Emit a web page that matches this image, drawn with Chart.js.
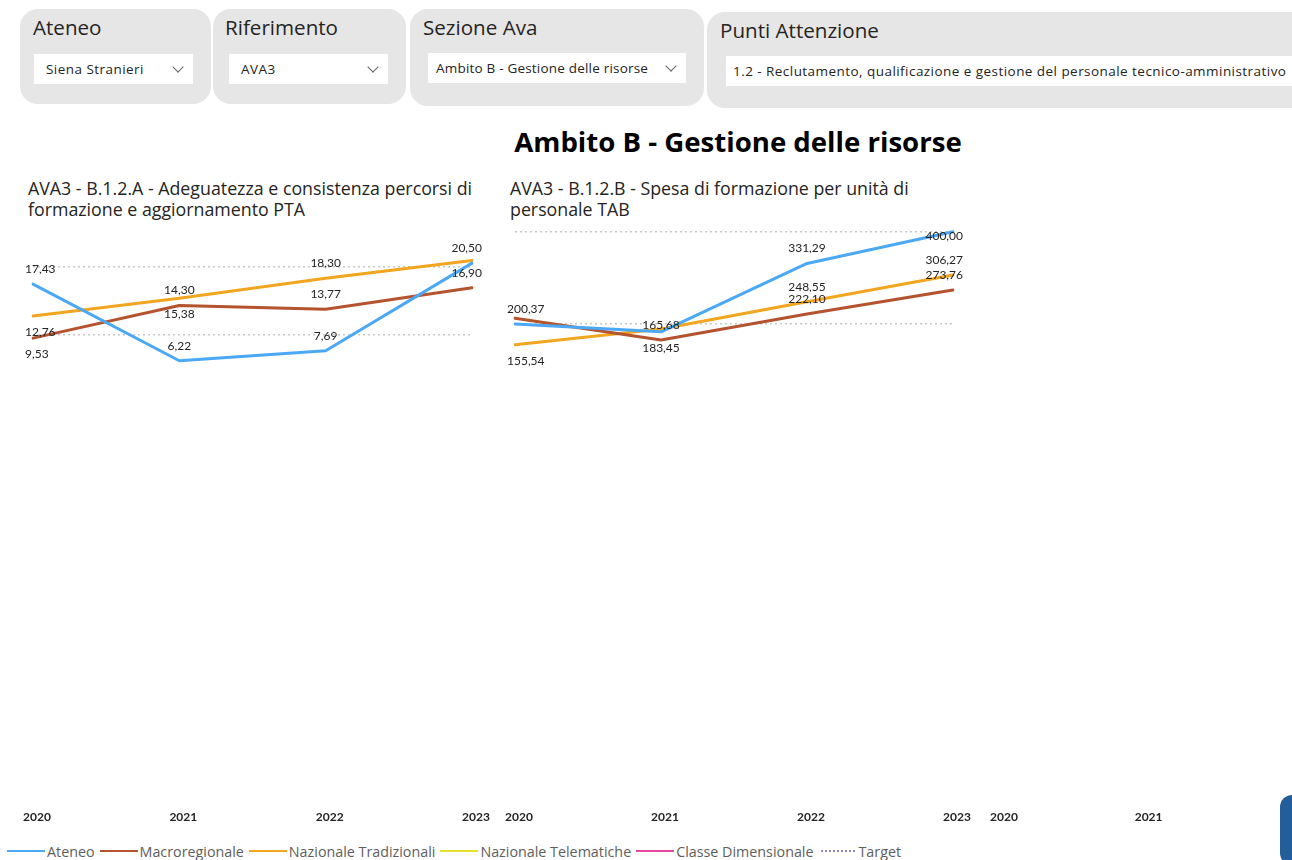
<!DOCTYPE html>
<html lang="it">
<head>
<meta charset="utf-8">
<title>Ambito B - Gestione delle risorse</title>
<script src="https://cdn.jsdelivr.net/npm/chart.js@4/dist/chart.umd.min.js"></script>
<style>
  html, body { margin: 0; padding: 0; background: #fff; }
  body {
    width: 1292px; height: 860px; overflow: hidden; position: relative;
    font-family: 'Segoe UI', 'Open Sans', Lato, sans-serif; color: #252423;
  }
  .slicer { position: absolute; background: #e6e6e6; border-radius: 18px; }
  .slicer h2 {
    margin: 0; position: absolute; left: 13px; top: 4px;
    font-weight: normal; font-size: 20.6px; line-height: 28px; white-space: nowrap;
  }
  .drop {
    position: absolute; background: #fff; font-size: 13.5px; line-height: 30px; height: 30px;
    padding-left: 12px; box-sizing: border-box; white-space: nowrap; overflow: hidden;
    letter-spacing: 0.45px;
  }
  .drop i {
    position: absolute; right: 11px; top: 9px; width: 7px; height: 7px;
    border-right: 1px solid #666; border-bottom: 1px solid #666; transform: rotate(45deg);
  }
  #mainTitle {
    position: absolute; left: 0; top: 123px; width: 1476px; text-align: center;
    font-size: 27.6px; font-weight: bold; line-height: 36px; color: #000;
  }
  .ctitle { position: absolute; top: 178px; font-size: 17.8px; line-height: 21px; width: 480px; }
  .box { position: absolute; top: 222px; height: 612px; }
  #legend {
    position: absolute; left: 7px; top: 841px; height: 20px; display: flex; align-items: center;
    font-size: 14.3px; color: #605e5c; white-space: nowrap;
  }
  #legend .item { display: flex; align-items: center; margin-right: 5px; }
  #legend .sym { width: 38px; height: 0; border-top: 2px solid; margin-right: 2px; }
  #legend .sym.dot { border-top-style: dotted; width: 34px; margin-left: 2px; margin-right: 4px; }
  #btn { position: absolute; left: 1280px; top: 795px; width: 40px; height: 70px; border-radius: 12px; background: #245e9a; }
</style>
</head>
<body>

<div class="slicer" style="left:20px;top:9px;width:191px;height:95px;">
  <h2>Ateneo</h2>
  <div class="drop" style="left:14px;top:45px;width:159px;">Siena Stranieri<i></i></div>
</div>
<div class="slicer" style="left:213px;top:9px;width:193px;height:95px;">
  <h2 style="left:12px;">Riferimento</h2>
  <div class="drop" style="left:16px;top:45px;width:159px;">AVA3<i></i></div>
</div>
<div class="slicer" style="left:410px;top:9px;width:294px;height:97px;">
  <h2>Sezione Ava</h2>
  <div class="drop" style="left:18px;top:44px;width:258px;padding-left:8px;letter-spacing:0.2px;">Ambito B - Gestione delle risorse<i></i></div>
</div>
<div class="slicer" style="left:707px;top:12px;width:640px;height:96px;">
  <h2>Punti Attenzione</h2>
  <div class="drop" style="left:19px;top:44px;width:640px;padding-left:7px;">1.2 - Reclutamento, qualificazione e gestione del personale tecnico-amministrativo</div>
</div>

<div id="mainTitle">Ambito B - Gestione delle risorse</div>

<div class="ctitle" style="left:28px;">AVA3 - B.1.2.A - Adeguatezza e consistenza percorsi di formazione e aggiornamento PTA</div>
<div class="ctitle" style="left:510px;width:430px;">AVA3 - B.1.2.B - Spesa di formazione per unità di personale TAB</div>

<div class="box" style="left:0;width:500px;"><canvas id="chartA"></canvas></div>
<div class="box" style="left:490px;width:500px;"><canvas id="chartB"></canvas></div>
<div class="box" style="left:980px;width:600px;"><canvas id="chartC"></canvas></div>

<div id="legend"></div>
<div id="btn"></div>

<script>
const FONT = "'Segoe UI', Lato, 'Open Sans', sans-serif";

const years = ['2020', '2021', '2022', '2023'];
const seriesNames = ['Ateneo', 'Macroregionale', 'Nazionale Tradizionali', 'Nazionale Telematiche', 'Classe Dimensionale', 'Target'];
const seriesColors = ['#4aa8f5', '#b5532f', '#f2a51e', '#e6e02f', '#e8489c', '#9683d6'];

// B.1.2.A - percorsi di formazione PTA
const ateneoA = [17.43, 6.22, 7.69, 20.50];
const macroA = [9.53, 14.30, 13.77, 16.90];
const tradA = [12.76, 15.38, 18.30, 20.89];
const gridA = [10, 20];

// B.1.2.B - spesa di formazione per unità TAB
const ateneoB = [200.37, 183.45, 331.29, 400.00];
const macroB = [212.90, 165.68, 222.10, 273.76];
const tradB = [155.54, 189.50, 248.55, 306.27];
const gridB = [200, 400];

const fmt = v => v.toFixed(2).replace('.', ',');

// etichette dei valori, sopra o sotto il punto come in Power BI
const valueLabels = {
  id: 'valueLabels',
  afterDatasetsDraw(chart, args, opts) {
    const { ctx, chartArea: area } = chart;
    const below = opts.below || [];
    const hide = opts.hide || [];
    ctx.save();
    ctx.font = '12px ' + FONT;
    ctx.fillStyle = '#252423';
    ctx.textBaseline = 'middle';
    ctx.textAlign = 'left';
    chart.data.datasets.forEach((ds, i) => {
      chart.getDatasetMeta(i).data.forEach((pt, j) => {
        const key = i + ':' + j;
        if (hide.includes(key)) return;
        const txt = fmt(ds.data[j]);
        const w = ctx.measureText(txt).width;
        let x = pt.x - w / 2;
        x = Math.max(area.left - 8, Math.min(x, area.right + 10 - w));
        let y = below.includes(key) ? pt.y + 16 : pt.y - 15;
        y = Math.max(area.top + 7, y);
        ctx.fillText(txt, x, y);
      });
    });
    ctx.restore();
  }
};

function line(i, data) {
  return {
    label: seriesNames[i],
    data: data,
    borderColor: seriesColors[i],
    backgroundColor: seriesColors[i],
    borderWidth: 3,
    pointRadius: 0,
    tension: 0,
    borderJoinStyle: 'round',
    borderCapStyle: 'round'
  };
}

function makeChart(id, datasets, yMin, yMax, gridVals, pad, labelOpts) {
  return new Chart(document.getElementById(id), {
    type: 'line',
    data: { labels: years, datasets: datasets },
    options: {
      responsive: true,
      maintainAspectRatio: false,
      animation: false,
      layout: { padding: pad },
      plugins: {
        legend: { display: false },
        tooltip: { enabled: false },
        valueLabels: labelOpts
      },
      scales: {
        x: {
          offset: false,
          grid: { display: false, drawTicks: false },
          border: { display: false },
          ticks: {
            color: '#252423',
            font: { family: FONT, size: 12, weight: 'bold' },
            padding: 6,
            labelOffset: 4,
            maxRotation: 0,
            autoSkip: false
          }
        },
        y: {
          min: yMin,
          max: yMax,
          afterBuildTicks: scale => { scale.ticks = gridVals.map(v => ({ value: v })); },
          ticks: { display: false },
          grid: { display: gridVals.length > 0, drawTicks: false, color: '#c8c8c8', lineWidth: 1.5 },
          border: { display: false, dash: [2, 3] }
        }
      }
    },
    plugins: [valueLabels]
  });
}

makeChart('chartA',
  [line(0, ateneoA), line(1, macroA), line(2, tradA)],
  -58.6, 25.5, gridA,
  { top: 7, left: 33, right: 28, bottom: 4 },
  { below: ['1:0', '2:0', '2:1'], hide: ['2:3'] });

makeChart('chartB',
  [line(0, ateneoB), line(1, macroB), line(2, tradB)],
  -837, 405.8, gridB,
  { top: 7, left: 25, right: 37, bottom: 4 },
  { below: ['0:1', '2:0'], hide: ['1:0', '2:1'] });

makeChart('chartC', [], 0, 1, [],
  { top: 7, left: 16, right: 146, bottom: 4 },
  {});

// legenda comune
const legend = document.getElementById('legend');
seriesNames.forEach((name, i) => {
  const item = document.createElement('div');
  item.className = 'item';
  const sym = document.createElement('span');
  sym.className = name === 'Target' ? 'sym dot' : 'sym';
  sym.style.borderTopColor = seriesColors[i];
  const txt = document.createElement('span');
  txt.textContent = name;
  item.appendChild(sym);
  item.appendChild(txt);
  legend.appendChild(item);
});
</script>
</body>
</html>
